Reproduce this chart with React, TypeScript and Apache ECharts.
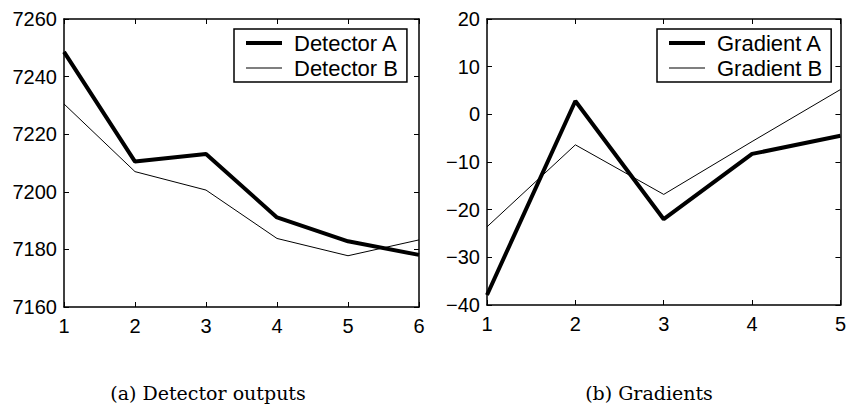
import React, { useEffect, useRef } from "react";
import * as echarts from "echarts";

const xDetector = [1, 2, 3, 4, 5, 6];
const detectorA = [7248.6, 7210.5, 7213.1, 7191.1, 7182.8, 7178.1];
const detectorB = [7230.5, 7207.0, 7200.6, 7183.8, 7177.8, 7183.3];

const xGradient = [1, 2, 3, 4, 5];
const gradientA = [-37.9, 2.8, -22.0, -8.3, -4.5];
const gradientB = [-23.6, -6.4, -16.8, -5.7, 5.2];

const captionA = "(a) Detector outputs";
const captionB = "(b) Gradients";

const pairs = (xs: number[], ys: number[]) => xs.map((x, i) => [x, ys[i]]);

const THICK_ICON = "path://M0,0L0.01,0Z M0,5L36,5L36,9L0,9Z M0,14L0.01,14Z";
const THIN_ICON = "path://M0,0L0.01,0Z M0,6.5L36,6.5L36,7.5L0,7.5Z M0,14L0.01,14Z";

export default function App() {
  const ref = useRef<HTMLDivElement>(null);
  useEffect(() => {
    if (!ref.current) return;
    const chart = echarts.init(ref.current, undefined, { renderer: "svg" });
    const tickFont = { fontFamily: "'Liberation Sans', Arial, sans-serif", fontSize: 20, color: "#000" };
    const minus = (v: number) => String(v).replace("-", "\u2212");
    const axisLine = { show: true, onZero: false, lineStyle: { color: "#000", width: 1.5 } };
    const tick = { show: true, inside: true, length: 5, lineStyle: { color: "#000", width: 1 } };
    const mkX = (grid: number, max: number, pos: "bottom" | "top", labels: boolean) => ({
      type: "value",
      gridIndex: grid,
      position: pos,
      min: 1,
      max,
      interval: 1,
      axisLine,
      axisTick: tick,
      splitLine: { show: false },
      axisLabel: { show: labels, margin: 9, ...tickFont },
    });
    const mkY = (grid: number, min: number, max: number, interval: number, pos: "left" | "right", labels: boolean) => ({
      type: "value",
      gridIndex: grid,
      position: pos,
      min,
      max,
      interval,
      axisLine,
      axisTick: tick,
      splitLine: { show: false },
      axisLabel: { show: labels, margin: 7, formatter: minus, ...tickFont },
    });
    const legendBase = {
      orient: "vertical",
      top: 29,
      padding: [3, 9, 3, 12],
      itemGap: 3,
      itemWidth: 36,
      itemHeight: 14,
      borderColor: "#000",
      borderWidth: 1.5,
      backgroundColor: "#fff",
      itemStyle: { color: "#000", borderWidth: 0 },
      textStyle: { fontFamily: "'Liberation Sans', Arial, sans-serif", fontSize: 22, color: "#000", padding: [0, 0, 0, 7] },
    };
    chart.setOption({
      animation: false,
      grid: [
        { left: 64, top: 19, width: 355, height: 288, containLabel: false },
        { left: 487, top: 19, width: 354, height: 286, containLabel: false },
      ],
      xAxis: [
        mkX(0, 6, "bottom", true),
        mkX(0, 6, "top", false),
        mkX(1, 5, "bottom", true),
        mkX(1, 5, "top", false),
      ],
      yAxis: [
        mkY(0, 7160, 7260, 20, "left", true),
        mkY(0, 7160, 7260, 20, "right", false),
        mkY(1, -40, 20, 10, "left", true),
        mkY(1, -40, 20, 10, "right", false),
      ],
      legend: [
        { ...legendBase, left: 234, data: [{ name: "Detector A", icon: THICK_ICON }, { name: "Detector B", icon: THIN_ICON }] },
        { ...legendBase, left: 657, data: [{ name: "Gradient A", icon: THICK_ICON }, { name: "Gradient B", icon: THIN_ICON }] },
      ],
      series: [
        { name: "Detector A", type: "line", xAxisIndex: 0, yAxisIndex: 0, data: pairs(xDetector, detectorA), symbol: "none", lineStyle: { color: "#000", width: 4 }, itemStyle: { color: "#000" } },
        { name: "Detector B", type: "line", xAxisIndex: 0, yAxisIndex: 0, data: pairs(xDetector, detectorB), symbol: "none", lineStyle: { color: "#000", width: 1 }, itemStyle: { color: "#000" } },
        { name: "Gradient A", type: "line", xAxisIndex: 2, yAxisIndex: 2, data: pairs(xGradient, gradientA), symbol: "none", lineStyle: { color: "#000", width: 4 }, itemStyle: { color: "#000" } },
        { name: "Gradient B", type: "line", xAxisIndex: 2, yAxisIndex: 2, data: pairs(xGradient, gradientB), symbol: "none", lineStyle: { color: "#000", width: 1 }, itemStyle: { color: "#000" } },
      ],
      graphic: [
        { type: "text", x: 208, y: 393, style: { text: captionA, fontFamily: "'DejaVu Serif', serif", fontSize: 19, fill: "#000", align: "center", verticalAlign: "middle" } },
        { type: "text", x: 649, y: 393, style: { text: captionB, fontFamily: "'DejaVu Serif', serif", fontSize: 19, fill: "#000", align: "center", verticalAlign: "middle" } },
      ],
    });
    return () => chart.dispose();
  }, []);
  return <div ref={ref} style={{ width: 849, height: 407, position: "absolute", left: 0, top: 0 }} />;
}
